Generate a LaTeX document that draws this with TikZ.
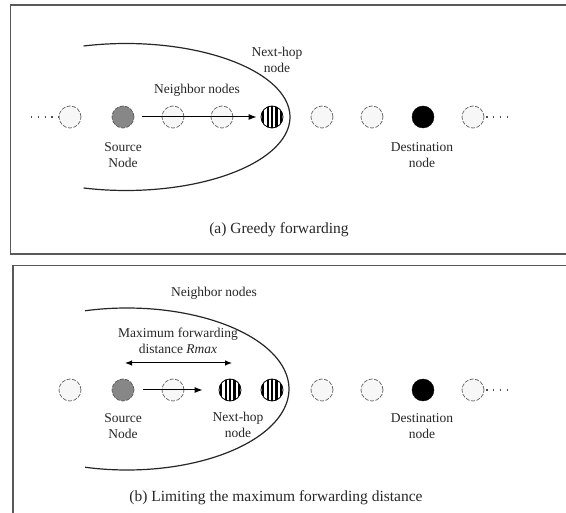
\documentclass[tikz,border=0pt]{standalone}
\usepackage{fontspec}
\setmainfont{Liberation Serif}
\usetikzlibrary{arrows.meta}
\begin{document}
\begin{tikzpicture}[x=1pt,y=-1pt,
  basenode/.style={circle, minimum size=22pt, inner sep=0pt},
  plainnode/.style={basenode, draw=black!62, fill=black!3, line width=0.7pt, dash pattern=on 4pt off 1.5pt},
  srcnode/.style={plainnode, fill=black!47, draw=black!65},
  dstnode/.style={basenode, fill=black, draw=black},
  hopnode/.style={basenode, draw=black, fill=white, line width=0.8pt,
    path picture={\foreach \s in {-9.9,-5.5,-1.1,3.3,7.7}
      \fill[black] (path picture bounding box.center) ++(\s,-13) rectangle ++(2.2,26);}},
  lbl/.style={font=\fontsize{13.5}{16}\selectfont, align=center, text=black!85, inner sep=0pt},
  captext/.style={font=\fontsize{15.5}{19}\selectfont, text=black!85, inner sep=0pt},
  panelframe/.style={draw=black!65, line width=1.2pt},
  zone/.style={draw=black!85, line width=1.2pt},
  fwd/.style={-{Latex[length=8pt,width=6pt]}, line width=1pt},
  rangearrow/.style={{Latex[length=7pt,width=5.5pt]}-{Latex[length=7pt,width=5.5pt]}, line width=1pt},
  dotline/.style={draw=black!70, line width=1.2pt, dash pattern=on 1.3pt off 5.5pt}
]
\useasboundingbox (0,0) rectangle (566,513);
\clip (0,0) rectangle (566,513);

% panel frames (open to the right, and below for the lower one)
\draw[panelframe] (575,5) -- (10.5,5) -- (10.5,254) -- (575,254);
\draw[panelframe] (575,265.5) -- (13,265.5) -- (13,520);

% ---------------- (a) Greedy forwarding ----------------
\draw[zone] plot[domain=-105:105, samples=80, smooth] ({126+164*cos(\x)}, {117+73.5*sin(\x)});

\node[plainnode] (a1) at (70,117) {};
\node[srcnode]   (as) at (123,117) {};
\node[plainnode] (an1) at (173,117) {};
\node[plainnode] (an2) at (222,117) {};
\node[hopnode]   (ah) at (272,117) {};
\node[plainnode] (a5) at (322,117) {};
\node[plainnode] (a6) at (372,117) {};
\node[dstnode]   (ad) at (423,117) {};
\node[plainnode] (a8) at (473,117) {};

\coordinate (al) at (31,117);
\coordinate (ar) at (512,117);
\draw[dotline] (al) -- (a1);
\draw[dotline, shorten <=2pt] (a8) -- (ar);

\draw[fwd, shorten <=8pt, shorten >=4pt] (as) -- (ah);

\node[lbl] (tnh) at (277,60) {Next-hop\\node};
\node[lbl] (tnb) at (197,90) {Neighbor nodes};
\node[lbl] (tsrc) at (123,155) {Source\\Node};
\node[lbl] (tdst) at (422,155) {Destination\\node};
\node[captext] (capa) at (279,230) {(a) Greedy forwarding};

% ---------------- (b) Limiting the maximum forwarding distance ----------------
\draw[zone] plot[domain=-105:105, samples=80, smooth] ({127+162*cos(\x)}, {389+81*sin(\x)});

\node[plainnode] (b1) at (70,390) {};
\node[srcnode]   (bs) at (123,390) {};
\node[plainnode] (bn) at (173,390) {};
\node[hopnode]   (bh) at (230,390) {};
\node[hopnode]   (bh2) at (272,390) {};
\node[plainnode] (b5) at (322,390) {};
\node[plainnode] (b6) at (372,390) {};
\node[dstnode]   (bd) at (423,390) {};
\node[plainnode] (b8) at (473,390) {};

\coordinate (br) at (512,390);
\draw[dotline, shorten <=2pt] (b8) -- (br);

\draw[fwd, shorten <=9pt, shorten >=16pt] (bs) -- (bh);

\coordinate (rl) at (125,363);
\coordinate (rr) at (232,363);
\draw[rangearrow] (rl) -- (rr);

\node[lbl] (tnb2) at (214,293) {Neighbor nodes};
\node[lbl] (tmax) at (178,341) {Maximum forwarding\\distance \textit{Rmax}};
\node[lbl] (tsrc2) at (123,426) {Source\\Node};
\node[lbl] (tnh2) at (238,425) {Next-hop\\node};
\node[lbl] (tdst2) at (422,426) {Destination\\node};
\node[captext] (capb) at (276,498) {(b) Limiting the maximum forwarding distance};
\end{tikzpicture}
\end{document}
